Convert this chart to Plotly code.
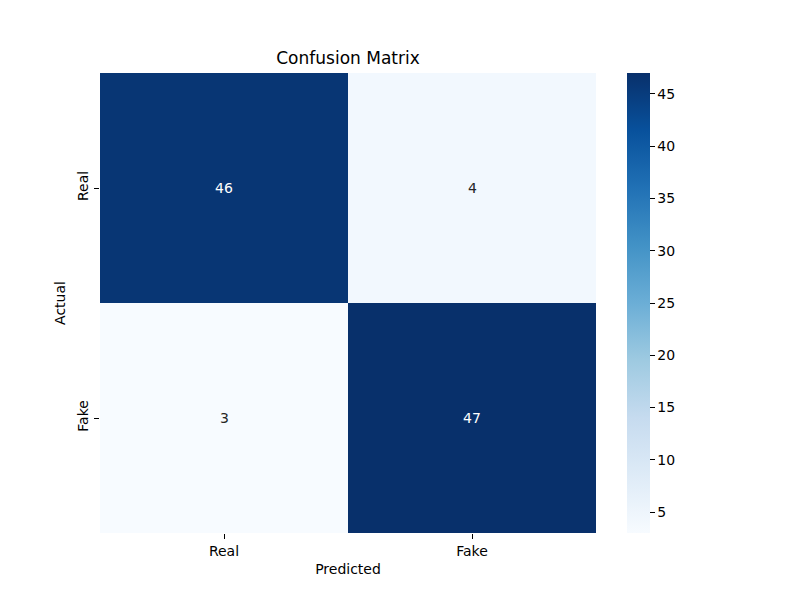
import plotly.graph_objects as go

# confusion matrix values (rows = actual, cols = predicted)
labels = ["Real", "Fake"]
matrix = [[46, 4],
          [3, 47]]

# matplotlib "Blues"
blues = ["#f7fbff", "#deebf7", "#c6dbef", "#9ecae1", "#6baed6",
         "#4292c6", "#2171b5", "#08519c", "#08306b"]
colorscale = [[i / (len(blues) - 1), c] for i, c in enumerate(blues)]

zmin = min(min(r) for r in matrix)
zmax = max(max(r) for r in matrix)

fig = go.Figure(go.Heatmap(
    z=matrix,
    x=[0, 1],
    y=[0, 1],
    colorscale=colorscale,
    zmin=zmin,
    zmax=zmax,
    showscale=True,
    colorbar=dict(
        x=1.0625, xanchor="left", xpad=0,
        y=0.5, yanchor="middle", ypad=0,
        len=1, lenmode="fraction",
        thickness=23,
        outlinewidth=0,
        tickvals=[5, 10, 15, 20, 25, 30, 35, 40, 45],
        ticks="outside", ticklen=5, tickcolor="#000",
        tickfont=dict(size=14, color="#000"),
    ),
    hoverinfo="skip",
))

# cell annotations, white on dark cells
mid = (zmin + zmax) / 2
for i, row in enumerate(matrix):
    for j, v in enumerate(row):
        fig.add_annotation(
            x=j, y=i, text=str(v), showarrow=False,
            font=dict(size=14, color="white" if v > mid else "#262626"),
        )

# page body adds an 8px offset, so margins are shifted back by 8
fig.update_layout(
    width=800, height=600,
    margin=dict(l=92, r=212, t=65, b=75),
    paper_bgcolor="white",
    plot_bgcolor="white",
    font=dict(family="DejaVu Sans", size=14, color="#000"),
    title=dict(text="Confusion Matrix", x=0.5, xref="paper", xanchor="center",
               y=1 - 50 / 600, yanchor="middle", font=dict(size=17)),
)
fig.update_xaxes(
    tickvals=[0, 1], ticktext=labels, range=[-0.5, 1.5],
    ticks="outside", ticklen=5, tickcolor="#000",
    tickfont=dict(size=14),
    showgrid=False, zeroline=False, showline=False,
    title=dict(text="Predicted", standoff=6, font=dict(size=14)),
)
fig.update_yaxes(
    tickvals=[0, 1], ticktext=labels, range=[1.5, -0.5],
    ticks="outside", ticklen=5, tickcolor="#000", tickangle=-90,
    tickfont=dict(size=14),
    showgrid=False, zeroline=False, showline=False,
    title=dict(text="Actual", standoff=6, font=dict(size=14)),
)

fig.write_html("out.html")
